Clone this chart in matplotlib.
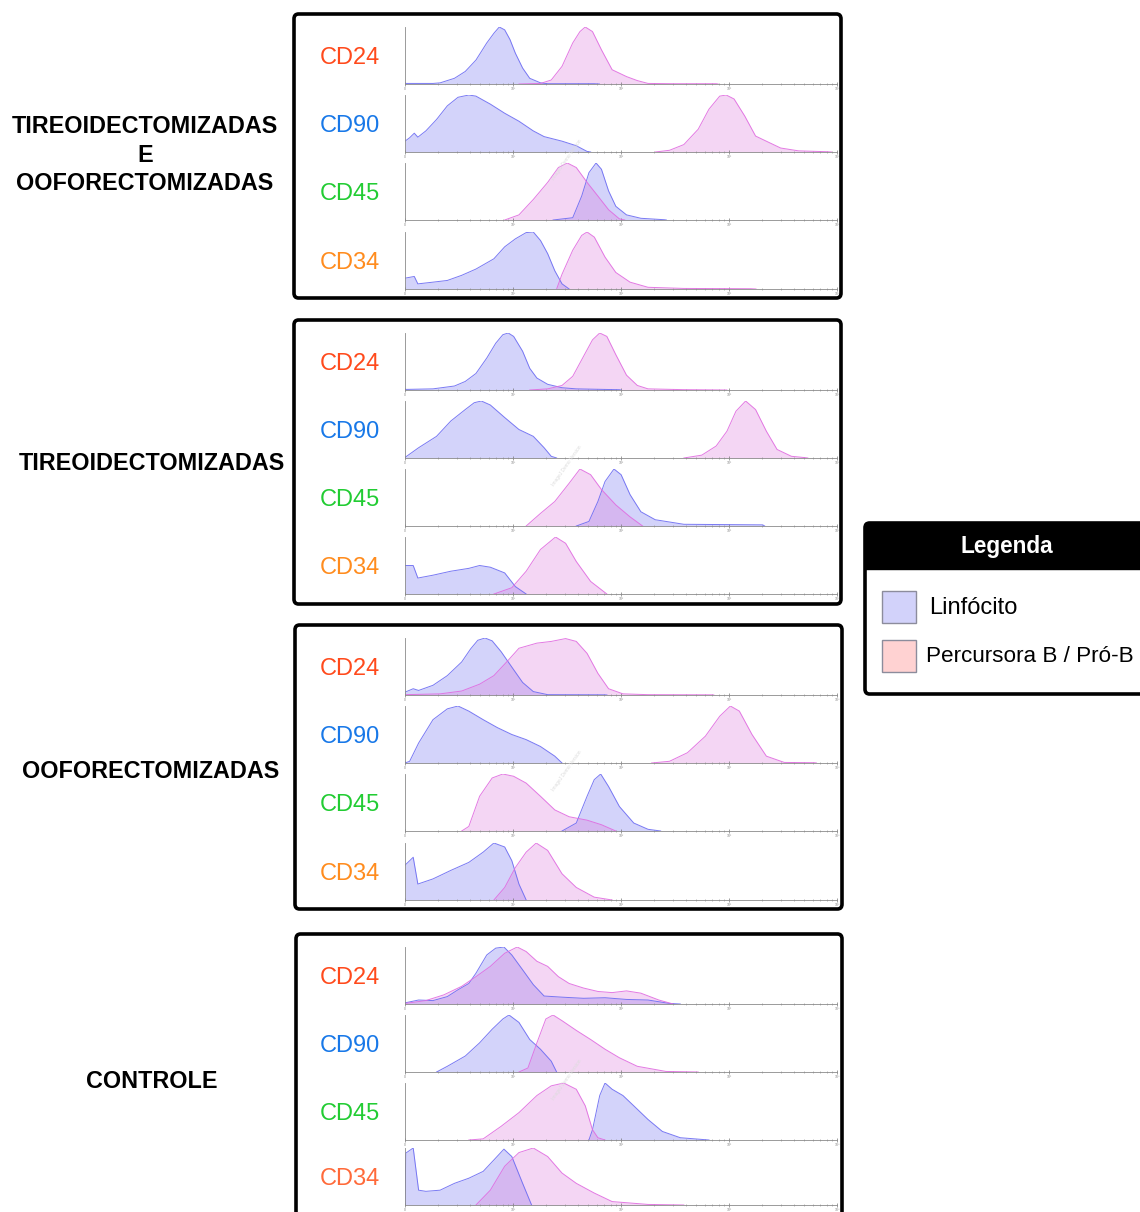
import matplotlib
matplotlib.use("Agg")
import matplotlib.pyplot as plt
from matplotlib.patches import Rectangle, FancyBboxPatch
import numpy as np

plt.rcParams['font.family'] = ['Liberation Sans', 'DejaVu Sans']

# ---- data: (decade on log axis, relative count) ----
groups = ["TIREOIDECTOMIZADAS\nE\nOOFORECTOMIZADAS", "TIREOIDECTOMIZADAS",
          "OOFORECTOMIZADAS", "CONTROLE"]
markers = ["CD24", "CD90", "CD45", "CD34"]
legend_labels = ["Linfócito", "Percursora B / Pró-B"]

# tireoidectomizadas e ooforectomizadas
te_cd24_lin = [(0, .01), (.26, .01), (.325, .02), (.458, .10), (.558, .22), (.657, .42), (.757, .72),
               (.823, .89), (.873, 1.0), (.923, .95), (.972, .78), (1.022, .54), (1.089, .28),
               (1.155, .10), (1.255, .02), (1.321, .005), (1.752, .005), (1.8, 0)]
te_cd24_pre = [(1.055, 0), (1.255, .01), (1.354, .07), (1.454, .31), (1.553, .72), (1.620, .92),
               (1.669, 1.0), (1.736, .92), (1.819, .60), (1.918, .25), (2.051, .13), (2.151, .06),
               (2.250, .01), (2.483, .005), (2.881, .005), (2.9, 0)]
te_cd90_lin = [(0, .19), (.043, .25), (.086, .33), (.119, .26), (.193, .37), (.292, .57), (.392, .81),
               (.491, .96), (.591, 1.0), (.657, .98), (.790, .84), (.923, .68), (1.055, .54),
               (1.188, .37), (1.288, .27), (1.454, .19), (1.586, .11), (1.686, .01), (1.719, 0)]
te_cd90_pre = [(2.317, 0), (2.449, .03), (2.582, .13), (2.715, .40), (2.814, .75), (2.914, .98),
               (2.974, 1.0), (3.047, .93), (3.146, .63), (3.246, .28), (3.345, .19), (3.478, .07),
               (3.644, .02), (3.910, .005), (3.95, 0)]
te_cd45_lin = [(1.371, 0), (1.553, .04), (1.636, .42), (1.703, .83), (1.769, 1.0), (1.819, .89),
               (1.885, .51), (1.952, .24), (2.051, .09), (2.184, .03), (2.400, .005), (2.42, 0)]
te_cd45_pre = [(.923, 0), (1.055, .09), (1.188, .36), (1.321, .66), (1.420, .92), (1.503, 1.0),
               (1.586, .92), (1.686, .66), (1.786, .42), (1.885, .18), (1.985, .02), (2.035, 0)]
te_cd34_lin = [(0, .19), (.086, .22), (.119, .09), (.259, .12), (.392, .15), (.525, .24), (.657, .35),
               (.823, .53), (.923, .74), (1.022, .88), (1.122, .99), (1.188, 1.0), (1.255, .85),
               (1.321, .62), (1.387, .32), (1.454, .09), (1.520, 0)]
te_cd34_pre = [(1.404, 0), (1.454, .26), (1.553, .68), (1.636, .94), (1.686, 1.0), (1.753, .91),
               (1.852, .56), (1.952, .29), (2.084, .12), (2.250, .03), (2.582, .01), (3.2, .005), (3.25, 0)]

# tireoidectomizadas
ti_cd24_lin = [(0, .01), (.259, .02), (.458, .07), (.558, .15), (.657, .29), (.757, .56), (.840, .82),
               (.906, .97), (.956, 1.0), (1.006, .94), (1.089, .68), (1.155, .38), (1.221, .21),
               (1.321, .10), (1.454, .04), (1.586, .02), (1.985, .005), (2.0, 0)]
ti_cd24_pre = [(1.155, 0), (1.321, .02), (1.454, .08), (1.553, .24), (1.653, .59), (1.736, .88),
               (1.803, 1.0), (1.869, .94), (1.952, .62), (2.051, .26), (2.151, .08), (2.250, .02),
               (2.582, .006), (2.981, 0)]
ti_cd90_lin = [(0, .01), (.126, .18), (.292, .38), (.425, .65), (.558, .85), (.641, .97), (.707, 1.0),
               (.790, .93), (.923, .71), (1.055, .50), (1.188, .38), (1.288, .18), (1.354, .03), (1.404, 0)]
ti_cd90_pre = [(2.582, 0), (2.748, .05), (2.881, .21), (2.981, .47), (3.064, .82), (3.154, 1.0),
               (3.246, .85), (3.346, .47), (3.445, .15), (3.578, .03), (3.711, .005), (3.73, 0)]
ti_cd45_lin = [(1.586, 0), (1.703, .08), (1.786, .43), (1.852, .78), (1.935, 1.0), (2.001, .90),
               (2.084, .55), (2.184, .25), (2.317, .11), (2.582, .03), (3.312, .02), (3.33, 0)]
ti_cd45_pre = [(1.122, 0), (1.254, .22), (1.387, .43), (1.520, .75), (1.620, 1.0), (1.719, .90),
               (1.819, .64), (1.952, .37), (2.084, .16), (2.200, 0)]
ti_cd34_lin = [(0, .50), (.076, .50), (.119, .28), (.259, .33), (.425, .40), (.591, .45), (.691, .50),
               (.790, .47), (.923, .37), (1.022, .13), (1.122, 0)]
ti_cd34_pre = [(.823, 0), (.989, .11), (1.122, .40), (1.254, .78), (1.394, 1.0), (1.487, .89),
               (1.586, .57), (1.719, .22), (1.869, 0)]

# ooforectomizadas
oo_cd24_lin = [(0, .05), (.076, .11), (.126, .08), (.259, .17), (.392, .34), (.525, .58), (.608, .81),
               (.674, .96), (.741, 1.0), (.807, .95), (.890, .76), (.989, .49), (1.089, .22),
               (1.188, .06), (1.321, .006), (1.852, .003), (1.87, 0)]
oo_cd24_pre = [(0, .006), (.325, .02), (.525, .07), (.691, .19), (.823, .34), (.956, .61), (1.055, .82),
               (1.221, .91), (1.354, .94), (1.487, .99), (1.586, .94), (1.686, .73), (1.786, .38),
               (1.885, .11), (2.018, .02), (2.250, .006), (2.848, .003), (2.86, 0)]
oo_cd90_lin = [(0, 0), (.043, .03), (.126, .35), (.259, .76), (.392, .95), (.491, 1.0), (.591, .91),
               (.724, .76), (.856, .62), (.989, .50), (1.122, .41), (1.254, .29), (1.387, .12), (1.454, 0)]
oo_cd90_pre = [(2.283, 0), (2.449, .03), (2.615, .18), (2.781, .47), (2.914, .82), (3.013, 1.0),
               (3.096, .91), (3.213, .50), (3.346, .12), (3.512, .01), (3.794, .005), (3.81, 0)]
oo_cd45_lin = [(1.454, 0), (1.586, .14), (1.686, .61), (1.752, .90), (1.812, 1.0), (1.885, .78),
               (1.985, .43), (2.118, .14), (2.250, .03), (2.367, 0)]
oo_cd45_pre = [(.525, 0), (.591, .08), (.691, .61), (.807, .93), (.906, 1.0), (1.006, .96), (1.122, .84),
               (1.254, .61), (1.387, .37), (1.520, .25), (1.686, .19), (1.819, .11), (1.952, 0)]
oo_cd34_lin = [(0, .61), (.076, .75), (.119, .28), (.259, .37), (.425, .52), (.591, .66), (.724, .84),
               (.823, 1.0), (.923, .93), (.989, .69), (1.055, .28), (1.122, 0)]
oo_cd34_pre = [(.823, 0), (.923, .22), (1.022, .57), (1.122, .84), (1.215, 1.0), (1.321, .87),
               (1.454, .46), (1.586, .22), (1.752, .05), (1.918, 0)]

# controle
co_cd24_lin = [(0, .02), (.126, .07), (.259, .06), (.392, .13), (.491, .25), (.591, .36), (.657, .54),
               (.757, .86), (.840, .98), (.916, 1.0), (.989, .86), (1.089, .60), (1.188, .34),
               (1.288, .14), (1.454, .12), (1.653, .10), (1.852, .11), (2.051, .08), (2.250, .07),
               (2.449, .01), (2.549, 0)]
co_cd24_pre = [(0, .01), (.193, .06), (.359, .16), (.525, .31), (.657, .48), (.790, .66), (.923, .89),
               (1.039, 1.0), (1.122, .92), (1.221, .75), (1.321, .66), (1.420, .48), (1.520, .36),
               (1.653, .28), (1.786, .22), (1.918, .20), (2.051, .23), (2.184, .19), (2.350, .07), (2.483, 0)]
co_cd90_lin = [(.292, 0), (.392, .10), (.558, .28), (.690, .51), (.807, .75), (.906, .93), (.963, 1.0),
               (1.055, .87), (1.155, .57), (1.254, .40), (1.354, .19), (1.404, 0)]
co_cd90_pre = [(1.055, 0), (1.138, .07), (1.221, .51), (1.304, .93), (1.371, 1.0), (1.454, .90),
               (1.586, .73), (1.719, .57), (1.852, .40), (1.985, .25), (2.151, .10), (2.416, .01), (2.715, 0)]
co_cd45_lin = [(1.703, 0), (1.736, .18), (1.803, .78), (1.852, 1.0), (1.918, .89), (2.018, .78),
               (2.118, .60), (2.250, .36), (2.383, .15), (2.549, .04), (2.815, 0)]
co_cd45_pre = [(.591, 0), (.724, .02), (.890, .24), (1.055, .48), (1.221, .78), (1.354, .95),
               (1.470, 1.0), (1.586, .89), (1.669, .60), (1.736, .18), (1.786, .04), (1.852, 0)]
co_cd34_lin = [(0, 0), (.007, .91), (.076, 1.0), (.126, .26), (.193, .24), (.325, .26), (.458, .38),
               (.591, .47), (.724, .59), (.823, .79), (.916, .98), (.989, .85), (1.089, .38), (1.172, 0)]
co_cd34_pre = [(.657, 0), (.790, .26), (.923, .68), (1.055, .92), (1.188, 1.0), (1.321, .85),
               (1.454, .56), (1.586, .38), (1.752, .21), (1.918, .06), (2.250, .01), (2.582, 0)]

curves = [
    [(te_cd24_lin, te_cd24_pre), (te_cd90_lin, te_cd90_pre), (te_cd45_lin, te_cd45_pre), (te_cd34_lin, te_cd34_pre)],
    [(ti_cd24_lin, ti_cd24_pre), (ti_cd90_lin, ti_cd90_pre), (ti_cd45_lin, ti_cd45_pre), (ti_cd34_lin, ti_cd34_pre)],
    [(oo_cd24_lin, oo_cd24_pre), (oo_cd90_lin, oo_cd90_pre), (oo_cd45_lin, oo_cd45_pre), (oo_cd34_lin, oo_cd34_pre)],
    [(co_cd24_lin, co_cd24_pre), (co_cd90_lin, co_cd90_pre), (co_cd45_lin, co_cd45_pre), (co_cd34_lin, co_cd34_pre)],
]

# ---- layout (pixels) ----
W, H = 1140, 1212
marker_colors = ['#ff4a1c', '#1878e8', '#22cc33', '#ff8c1e']
box_px = [(294, 14, 841, 298), (294, 320, 841, 604), (295, 625, 842, 909), (296, 934, 842, 1232)]
baselines = [[84, 152, 220, 289], [390, 458, 526, 594], [695, 763, 831, 900], [1004, 1072, 1140, 1205]]
group_label_pos = [(145, 155), (152, 463), (151, 771), (152, 1081)]

lin_face, lin_edge = (0.43, 0.43, 0.94), (0.42, 0.42, 0.95)
pre_face, pre_edge = (0.86, 0.47, 0.86), (0.88, 0.42, 0.88)


def fx(px):
    return px / W


def fy(py):
    return 1 - py / H


fig = plt.figure(figsize=(W / 100, H / 100), dpi=100)

minor = [d + np.log10(k) for d in range(4) for k in range(2, 10)]

for g in range(4):
    x0, y0, x1, y1 = box_px[g]
    box = FancyBboxPatch((fx(x0), fy(y1)), fx(x1) - fx(x0), fy(y0) - fy(y1),
                         boxstyle="round,pad=0,rounding_size=0.004", transform=fig.transFigure,
                         facecolor='none', edgecolor='black', linewidth=2.6)
    fig.patches.append(box)

    lx, ly = group_label_pos[g]
    fig.text(fx(lx), fy(ly), groups[g], ha='center', va='center', fontsize=16.8,
             fontweight='bold', linespacing=1.33)

    for m in range(4):
        base = baselines[g][m]
        ax = fig.add_axes([fx(405), fy(base), fx(837) - fx(405), 57 / H])
        lin, pre = curves[g][m]
        for pts, face, edge in [(lin, lin_face, lin_edge), (pre, pre_face, pre_edge)]:
            xs = [p[0] for p in pts]
            ys = [p[1] for p in pts]
            ax.fill_between(xs, ys, 0, color=face, alpha=0.3, linewidth=0)
            ax.plot(xs, ys, color=edge, linewidth=0.7, alpha=0.9)
        ax.set_xlim(0, 4)
        ax.set_ylim(0, 1.0)
        ax.patch.set_alpha(0)
        for s in ['top', 'right']:
            ax.spines[s].set_visible(False)
        for s in ['left', 'bottom']:
            ax.spines[s].set_color('#8a8a8a')
            ax.spines[s].set_linewidth(0.6)
        ax.set_yticks([])
        ax.set_xticks(range(5))
        ax.set_xticklabels(['0', '10¹', '10²', '10³', '10⁴'])
        ax.set_xticks(minor, minor=True)
        ax.tick_params(axis='x', which='major', direction='inout', length=3, width=0.5,
                       color='#777777', labelsize=2.5, labelcolor='#888888', pad=0.5)
        ax.tick_params(axis='x', which='minor', direction='inout', length=1.6, width=0.4,
                       color='#888888')

        col = marker_colors[m]
        if g == 3 and m == 3:
            col = '#ff6a3a'
        fig.text(fx(350), fy(base - 26), markers[m], ha='center', va='center',
                 fontsize=17, color=col)

    # faint watermark seen in every group
    fig.text(fx(567), fy(baselines[g][1] + 8), "ImageJ Demo Version", fontsize=3.5,
             color='#dcdcdc', rotation=55, ha='center', va='center')

# ---- legend box ----
lg_x0, lg_y0, lg_x1, lg_y1 = 865, 523, 1165, 694
outer = FancyBboxPatch((fx(lg_x0), fy(lg_y1)), fx(lg_x1) - fx(lg_x0), fy(lg_y0) - fy(lg_y1),
                       boxstyle="round,pad=0,rounding_size=0.004", transform=fig.transFigure,
                       facecolor='white', edgecolor='black', linewidth=2.6)
fig.patches.append(outer)
header = Rectangle((fx(lg_x0), fy(569)), fx(lg_x1) - fx(lg_x0), fy(lg_y0) - fy(569),
                   transform=fig.transFigure, facecolor='black', edgecolor='black')
fig.patches.append(header)
fig.text(fx(1007), fy(546), "Legenda", ha='center', va='center', fontsize=16.3,
         fontweight='bold', color='white')

swatch_colors = ['#d2d2fa', '#ffd2d2']
swatch_top = [591, 640]
text_pos = [(929, 608), (926, 656)]
text_size = [17, 16.2]
for i in range(2):
    sq = Rectangle((fx(882), fy(swatch_top[i] + 32)), fx(916) - fx(882), 32 / H,
                   transform=fig.transFigure, facecolor=swatch_colors[i],
                   edgecolor='#8c8c9c', linewidth=1)
    fig.patches.append(sq)
    fig.text(fx(text_pos[i][0]), fy(text_pos[i][1]), legend_labels[i], ha='left', va='center',
             fontsize=text_size[i], color='black')

fig.savefig("out.png", dpi=100)
